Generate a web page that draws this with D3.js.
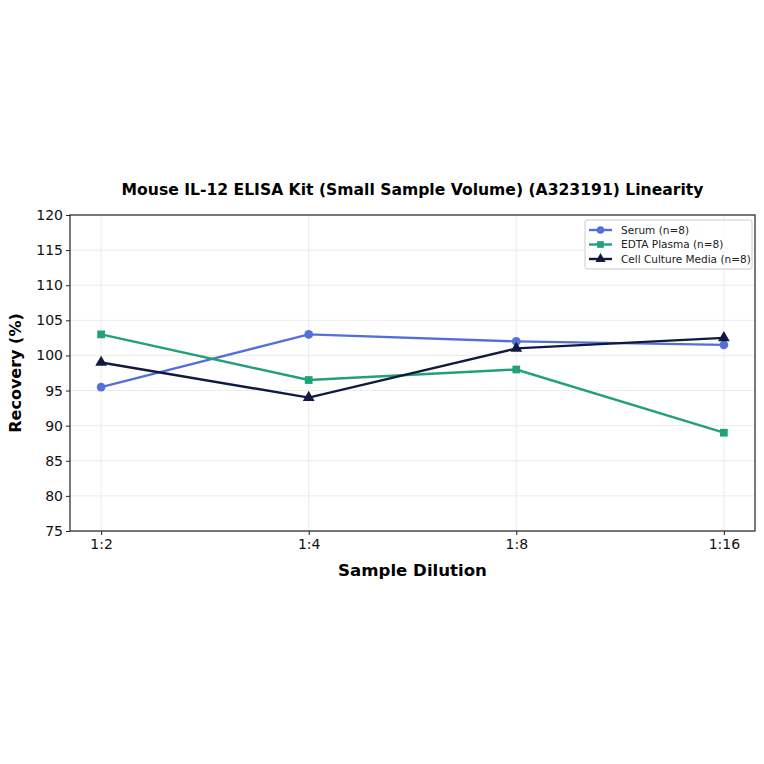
<!DOCTYPE html>
<html>
<head>
<meta charset="utf-8">
<script src="https://cdn.jsdelivr.net/npm/d3@7"></script>
<style>
  body { margin: 0; background: #fff; }
  text { font-family: "DejaVu Sans", sans-serif; }
</style>
</head>
<body>
<div class="chart"></div>
<script>
// data
const dilutions = ['1:2', '1:4', '1:8', '1:16'];
const serum = [95.5, 103, 102, 101.5];
const edta = [103, 96.5, 98, 89];
const cellCulture = [99, 94, 101, 102.5];
const yTicks = [75, 80, 85, 90, 95, 100, 105, 110, 115, 120];

const series = [
  { name: 'Serum (n=8)', values: serum, color: '#5470d8', shape: d3.symbolCircle },
  { name: 'EDTA Plasma (n=8)', values: edta, color: '#22a07a', shape: d3.symbolSquare },
  { name: 'Cell Culture Media (n=8)', values: cellCulture, color: '#101a40', shape: d3.symbolTriangle }
];

const margin = { top: 215, right: 9, bottom: 233, left: 70 };
const width = 764 - margin.left - margin.right;
const height = 764 - margin.top - margin.bottom;

const svg = d3.select('.chart')
  .append('svg')
  .attr('width', 764)
  .attr('height', 764)
  .append('g')
  .attr('transform', `translate(${margin.left}, ${margin.top})`);

// matplotlib-ish 5% margins on the x data range
const xScale = d3.scaleLinear()
  .domain([-0.15, dilutions.length - 1 + 0.15])
  .range([0, width]);

const yScale = d3.scaleLinear()
  .domain([75, 120])
  .range([height, 0]);

// grid
svg.append('g')
  .selectAll('line.h')
  .data(yTicks)
  .join('line')
  .attr('x1', 0).attr('x2', width)
  .attr('y1', d => yScale(d)).attr('y2', d => yScale(d))
  .attr('stroke', '#e6e6e6').attr('stroke-width', 0.8);

svg.append('g')
  .selectAll('line.v')
  .data(dilutions)
  .join('line')
  .attr('x1', (d, i) => xScale(i)).attr('x2', (d, i) => xScale(i))
  .attr('y1', 0).attr('y2', height)
  .attr('stroke', '#e6e6e6').attr('stroke-width', 0.8);

// axes
const yAxis = d3.axisLeft(yScale).tickValues(yTicks).tickSize(4).tickPadding(3);
const xAxis = d3.axisBottom(xScale)
  .tickValues(d3.range(dilutions.length))
  .tickFormat(i => dilutions[i])
  .tickSize(4).tickPadding(4);

const gy = svg.append('g').call(yAxis);
const gx = svg.append('g').attr('transform', `translate(0, ${height})`).call(xAxis);
[gx, gy].forEach(g => {
  g.select('.domain').remove();
  g.selectAll('text').attr('font-size', 14).attr('fill', '#111')
    .attr('font-family', '"DejaVu Sans", sans-serif');
  g.selectAll('line').attr('stroke', '#222');
});

svg.append('rect')
  .attr('width', width)
  .attr('height', height)
  .attr('fill', 'none')
  .attr('stroke', '#222')
  .attr('stroke-width', 1.2);

// lines and markers
const line = d3.line()
  .x((d, i) => xScale(i))
  .y(d => yScale(d));

series.forEach(s => {
  svg.append('path')
    .datum(s.values)
    .attr('d', line)
    .attr('fill', 'none')
    .attr('stroke', s.color)
    .attr('stroke-width', 2.4);

  svg.append('g')
    .selectAll('path')
    .data(s.values)
    .join('path')
    .attr('transform', (d, i) => `translate(${xScale(i)}, ${yScale(d)})`)
    .attr('d', d3.symbol().type(s.shape).size(60))
    .attr('fill', s.color);
});

// legend
const legend = svg.append('g').attr('transform', `translate(${width - 170}, 5)`);
legend.append('rect')
  .attr('width', 167).attr('height', 49)
  .attr('rx', 2)
  .attr('fill', '#fff').attr('fill-opacity', 0.85)
  .attr('stroke', '#ccc');

series.forEach((s, i) => {
  const row = legend.append('g').attr('transform', `translate(4, ${10 + i * 14.5})`);
  row.append('line')
    .attr('x1', 0).attr('x2', 23)
    .attr('stroke', s.color).attr('stroke-width', 2.4);
  row.append('path')
    .attr('transform', 'translate(11.5, 0)')
    .attr('d', d3.symbol().type(s.shape).size(45))
    .attr('fill', s.color);
  row.append('text')
    .attr('x', 32).attr('dy', '0.35em')
    .attr('font-size', 10.5).attr('fill', '#222')
    .text(s.name);
});

// title and axis labels
svg.append('text')
  .attr('x', width / 2).attr('y', -20)
  .attr('text-anchor', 'middle')
  .attr('font-size', 15.6).attr('font-weight', 'bold')
  .text('Mouse IL-12 ELISA Kit (Small Sample Volume) (A323191) Linearity');

svg.append('text')
  .attr('x', width / 2).attr('y', height + 45)
  .attr('text-anchor', 'middle')
  .attr('font-size', 16.6).attr('font-weight', 'bold')
  .text('Sample Dilution');

svg.append('text')
  .attr('transform', `translate(-49, ${height / 2}) rotate(-90)`)
  .attr('text-anchor', 'middle')
  .attr('font-size', 16).attr('font-weight', 'bold')
  .text('Recovery (%)');
</script>
</body>
</html>
